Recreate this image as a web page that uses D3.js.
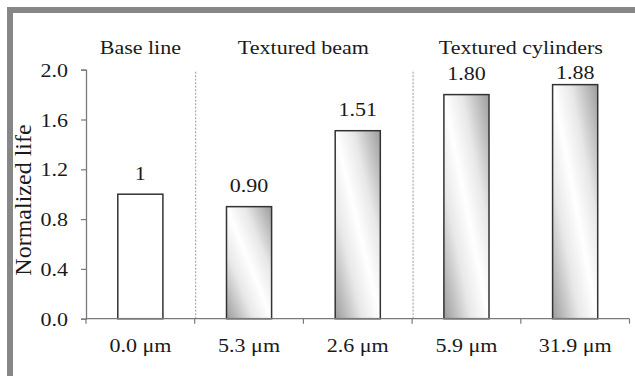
<!DOCTYPE html>
<html>
<head>
<meta charset="utf-8">
<script src="https://cdn.jsdelivr.net/npm/d3@7"></script>
<style>
  html, body { margin: 0; padding: 0; background: #fff; }
  svg { display: block; font-family: "Liberation Serif", "Times New Roman", Times, serif; }
</style>
</head>
<body>
<svg id="chart" width="635" height="376"></svg>
<script>
// Roughness values of each specimen and its normalized life
const categories = ["0.0 μm", "5.3 μm", "2.6 μm", "5.9 μm", "31.9 μm"];
const values = [1, 0.90, 1.51, 1.80, 1.88];
const valueLabels = ["1", "0.90", "1.51", "1.80", "1.88"];
const textured = [false, true, true, true, true];
const groupNames = ["Base line", "Textured beam", "Textured cylinders"];
const groupOfBar = [0, 1, 1, 2, 2];
const yTicks = [0, 0.4, 0.8, 1.2, 1.6, 2.0];
const yTickLabels = ["0.0", "0.4", "0.8", "1.2", "1.6", "2.0"];
const yTitle = "Normalized life";

const W = 635, H = 376;
const plot = { left: 86, right: 629.5, top: 69.7, bottom: 318.7 };
const serif = "'Liberation Serif', 'Times New Roman', Times, serif";
const fontSize = 18.5;
const stretch = 1.19;   // type is set slightly wide
const ink = "#1a1a1a";

const svg = d3.select("#chart");

// frame along the top and left edges
svg.append("rect").attr("x", 7).attr("y", 7).attr("width", W - 7).attr("height", 6).attr("fill", "#878787");
svg.append("rect").attr("x", 7).attr("y", 7).attr("width", 6).attr("height", H - 7).attr("fill", "#878787");

const x = d3.scaleBand().domain(d3.range(categories.length)).range([plot.left, plot.right]).padding(0);
const y = d3.scaleLinear().domain([0, 2]).range([plot.bottom, plot.top]);
const barW = x.bandwidth() * 0.415;

// diagonal shading for the textured specimens
const defs = svg.append("defs");
const grad = defs.append("linearGradient")
  .attr("id", "shade")
  .attr("x1", 1).attr("y1", 0).attr("x2", 0).attr("y2", 1);
[[0, "#9c9c9c"], [0.3, "#e8e8e8"], [0.5, "#ffffff"], [0.7, "#e8e8e8"], [1, "#9c9c9c"]].forEach(([o, c]) =>
  grad.append("stop").attr("offset", o).attr("stop-color", c));

function wideText(sel, tx, ty, anchor) {
  return sel.attr("text-anchor", anchor)
    .attr("font-family", serif)
    .attr("font-size", fontSize)
    .attr("fill", ink)
    .attr("transform", (d, i) => `translate(${tx(d, i)},${ty(d, i)}) scale(${stretch},1)`);
}

// group dividers between the specimen families
const boundaries = groupOfBar.slice(1).map((g, i) => g !== groupOfBar[i] ? i + 1 : null).filter(v => v !== null);
svg.append("g").selectAll("line").data(boundaries).join("line")
  .attr("x1", d => x(d) + 1).attr("x2", d => x(d) + 1)
  .attr("y1", y(2) + 2).attr("y2", plot.bottom)
  .attr("stroke", "#9a9a9a").attr("stroke-width", 1).attr("stroke-dasharray", "2,1.5");

// bars
svg.append("g").selectAll("rect").data(values).join("rect")
  .attr("x", (d, i) => x(i) + (x.bandwidth() - barW) / 2)
  .attr("y", d => y(d))
  .attr("width", barW)
  .attr("height", d => plot.bottom - y(d))
  .attr("fill", (d, i) => textured[i] ? "url(#shade)" : "#ffffff")
  .attr("stroke", "#333333")
  .attr("stroke-width", 1.5);

// value labels above the bars, kept clear of the group headings
svg.append("g").selectAll("text").data(values).join("text")
  .call(wideText, (d, i) => x(i) + x.bandwidth() / 2, d => Math.max(y(d) - 14.5, 79), "middle")
  .text((d, i) => valueLabels[i]);

// y axis
const yAxis = d3.axisLeft(y).tickValues(yTicks).tickSize(5).tickPadding(13)
  .tickFormat((d, i) => yTickLabels[i]);
const gy = svg.append("g").attr("transform", `translate(${plot.left},0)`).call(yAxis)
  .attr("font-family", serif);
gy.select(".domain").attr("stroke", "#7a7a7a").attr("stroke-width", 1.3);
gy.selectAll(".tick line").attr("stroke", "#7a7a7a").attr("stroke-width", 1.2);
gy.selectAll(".tick text")
  .attr("font-size", fontSize).attr("font-family", serif).attr("fill", ink)
  .attr("x", null).attr("dy", "0.36em")
  .attr("transform", `translate(-18,0) scale(${stretch},1)`);

// x axis with ticks at the band edges
const edges = d3.range(categories.length + 1).map(i => plot.left + i * x.bandwidth());
const gx = svg.append("g");
gx.append("line").attr("x1", plot.left).attr("x2", plot.right)
  .attr("y1", plot.bottom).attr("y2", plot.bottom)
  .attr("stroke", "#7a7a7a").attr("stroke-width", 1.3);
gx.selectAll("line.tk").data(edges).join("line").attr("class", "tk")
  .attr("x1", d => d).attr("x2", d => d)
  .attr("y1", plot.bottom).attr("y2", plot.bottom + 5)
  .attr("stroke", "#7a7a7a").attr("stroke-width", 1.2);
gx.selectAll("text").data(categories).join("text")
  .call(wideText, (d, i) => x(i) + x.bandwidth() / 2, () => 352, "middle")
  .text(d => d);

// group headings
const groupCenters = groupNames.map((g, gi) => {
  const idx = groupOfBar.map((v, i) => v === gi ? i : -1).filter(i => i >= 0);
  return (x(idx[0]) + x(idx[idx.length - 1]) + x.bandwidth()) / 2;
});
svg.append("g").selectAll("text").data(groupNames).join("text")
  .call(wideText, (d, i) => groupCenters[i], () => 54, "middle")
  .text(d => d);

// y axis title
svg.append("text")
  .attr("text-anchor", "middle")
  .attr("font-family", serif)
  .attr("font-size", 24)
  .attr("fill", ink)
  .attr("transform", `translate(31,200) rotate(-90)`)
  .text(yTitle);
</script>
</body>
</html>
